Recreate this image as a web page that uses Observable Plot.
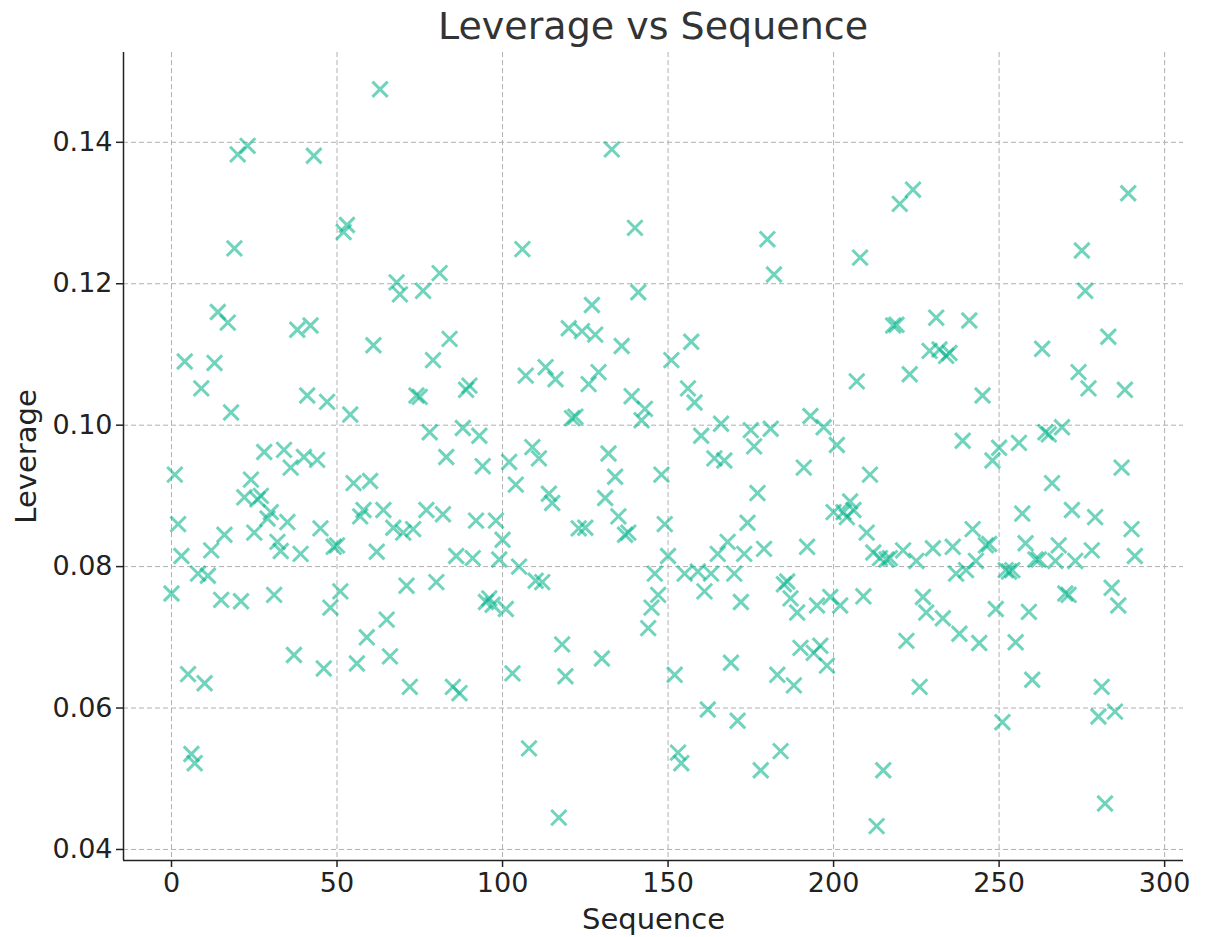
<!DOCTYPE html>
<html>
<head>
<meta charset="utf-8">
<script src="https://cdn.jsdelivr.net/npm/d3@7"></script>
<script src="https://cdn.jsdelivr.net/npm/@observablehq/plot@0.6"></script>
<style>
  html, body { margin: 0; padding: 0; background: #fff; }
  #title { height: 44px; box-sizing: border-box; padding-left: 123px; padding-right: 26px; text-align: center;
    font-family: "DejaVu Sans", sans-serif; font-size: 38px; color: #333; line-height: 52px; white-space: nowrap; }
  #chart svg { display: block; }
</style>
</head>
<body>
<div id="title">Leverage vs Sequence</div>
<div id="chart"></div>
<script>
const title = "Leverage vs Sequence";
const xLabel = "Sequence";
const yLabel = "Leverage";
const xTicks = [0, 50, 100, 150, 200, 250, 300];
const yTicks = [0.04, 0.06, 0.08, 0.10, 0.12, 0.14];
// Leverage value for each sequence position 0..291
const leverage = [
  0.0762, 0.0930, 0.0860, 0.0815, 0.1090, 0.0648, 0.0535, 0.0522, 0.0790, 0.1052,
  0.0635, 0.0787, 0.0823, 0.1088, 0.1160, 0.0753, 0.0845, 0.1145, 0.1018, 0.1250,
  0.1383, 0.0751, 0.0898, 0.1395, 0.0923, 0.0848, 0.0895, 0.0900, 0.0962, 0.0868,
  0.0877, 0.0760, 0.0835, 0.0822, 0.0965, 0.0863, 0.0940, 0.0675, 0.1135, 0.0818,
  0.0955, 0.1042, 0.1141, 0.1381, 0.0951, 0.0854, 0.0656, 0.1033, 0.0742, 0.0828,
  0.0830, 0.0765, 0.1273, 0.1283, 0.1015, 0.0918, 0.0663, 0.0871, 0.0880, 0.0700,
  0.0921, 0.1113, 0.0821, 0.1475, 0.0880, 0.0725, 0.0673, 0.0855, 0.1202, 0.1185,
  0.0848, 0.0773, 0.0630, 0.0853, 0.1042, 0.1040, 0.1190, 0.0880, 0.0990, 0.1092,
  0.0778, 0.1215, 0.0874, 0.0955, 0.1122, 0.0630, 0.0815, 0.0621, 0.0996, 0.1050,
  0.1056, 0.0812, 0.0865, 0.0985, 0.0942, 0.0750, 0.0755, 0.0746, 0.0865, 0.0810,
  0.0838, 0.0740, 0.0948, 0.0649, 0.0916, 0.0800, 0.1249, 0.1070, 0.0543, 0.0969,
  0.0780, 0.0953, 0.0778, 0.1082, 0.0903, 0.0890, 0.1065, 0.0445, 0.0690, 0.0645,
  0.1137, 0.1010, 0.1012, 0.0854, 0.1133, 0.0855, 0.1058, 0.1170, 0.1128, 0.1075,
  0.0670, 0.0897, 0.0960, 0.1390, 0.0927, 0.0871, 0.1112, 0.0845, 0.0848, 0.1041,
  0.1279, 0.1188, 0.1007, 0.1023, 0.0713, 0.0742, 0.0790, 0.0760, 0.0930, 0.0860,
  0.0815, 0.1092, 0.0647, 0.0537, 0.0522, 0.0790, 0.1052, 0.1118, 0.1032, 0.0793,
  0.0985, 0.0765, 0.0598, 0.0790, 0.0953, 0.0818, 0.1002, 0.0950, 0.0835, 0.0664,
  0.0790, 0.0582, 0.0750, 0.0818, 0.0862, 0.0993, 0.0970, 0.0904, 0.0512, 0.0825,
  0.1263, 0.0995, 0.1213, 0.0647, 0.0539, 0.0775, 0.0779, 0.0755, 0.0632, 0.0735,
  0.0685, 0.0940, 0.0828, 0.1013, 0.0678, 0.0745, 0.0688, 0.0997, 0.0660, 0.0757,
  0.0877, 0.0972, 0.0745, 0.0877, 0.0870, 0.0892, 0.0880, 0.1062, 0.1237, 0.0758,
  0.0848, 0.0930, 0.0820, 0.0433, 0.0812, 0.0512, 0.0810, 0.0812, 0.1141, 0.1142,
  0.1313, 0.0823, 0.0695, 0.1072, 0.1333, 0.0808, 0.0630, 0.0757, 0.0735, 0.1105,
  0.0826, 0.1152, 0.1107, 0.0727, 0.1098, 0.1102, 0.0828, 0.0790, 0.0705, 0.0978,
  0.0795, 0.1148, 0.0853, 0.0808, 0.0692, 0.1042, 0.0830, 0.0832, 0.0950, 0.0740,
  0.0968, 0.0580, 0.0795, 0.0793, 0.0795, 0.0693, 0.0975, 0.0875, 0.0833, 0.0736,
  0.0640, 0.0810, 0.0810, 0.1108, 0.0990, 0.0987, 0.0918, 0.0808, 0.0830, 0.0997,
  0.0762, 0.0760, 0.0880, 0.0808, 0.1075, 0.1247, 0.1190, 0.1052, 0.0823, 0.0870,
  0.0588, 0.0630, 0.0465, 0.1125, 0.0770, 0.0595, 0.0745, 0.0940, 0.1050, 0.1328,
  0.0853, 0.0815
];

const xDomain = [-14.5, 305.7];
const yDomain = [0.03844, 0.1527];
const font = "DejaVu Sans, sans-serif";

const chart = Plot.plot({
  width: 1209,
  height: 893,
  marginTop: 8,
  marginBottom: 77,
  marginLeft: 123,
  marginRight: 26,
  style: { fontFamily: font, background: "#fff", color: "#222" },
  x: { domain: xDomain, ticks: xTicks },
  y: { domain: yDomain, ticks: yTicks },
  marks: [
    Plot.gridX(xTicks, { stroke: "#b0b0b0", strokeOpacity: 1, strokeDasharray: "5,3", strokeWidth: 1 }),
    Plot.gridY(yTicks, { stroke: "#b0b0b0", strokeOpacity: 1, strokeDasharray: "5,3", strokeWidth: 1 }),
    Plot.axisX(xTicks, { tickSize: 7, tickPadding: 5, fontSize: 27, tickFormat: d3.format("d"),
      label: xLabel, labelAnchor: "center", labelArrow: "none", labelOffset: 68, strokeWidth: 1.5 }),
    Plot.axisY(yTicks, { tickSize: 7, tickPadding: 4, fontSize: 27, tickFormat: d3.format(".2f"),
      label: yLabel, labelAnchor: "center", labelArrow: "none", labelOffset: 108, strokeWidth: 1.5 }),
    Plot.ruleX([xDomain[0]], { stroke: "#222", strokeWidth: 1.5 }),
    Plot.ruleY([yDomain[0]], { stroke: "#222", strokeWidth: 1.5 }),
    Plot.dot(leverage, { x: (d, i) => i, y: d => d, symbol: "times", r: 7,
      stroke: "#00b38a", strokeOpacity: 0.56, strokeWidth: 3 })
  ]
});
document.getElementById("chart").appendChild(chart);
document.querySelectorAll("#chart svg g[aria-label='x-axis label'] text, #chart svg g[aria-label='y-axis label'] text")
  .forEach(t => t.setAttribute("font-size", "29"));
</script>
</body>
</html>
